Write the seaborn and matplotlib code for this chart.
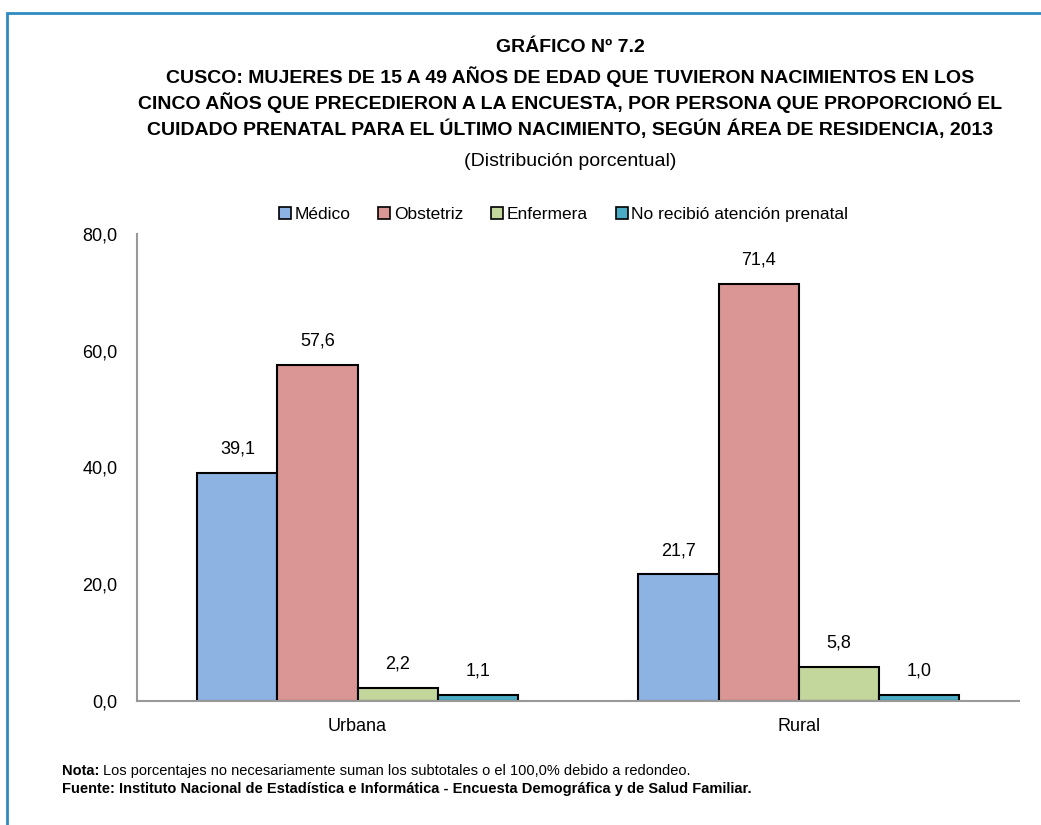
import matplotlib
matplotlib.use("Agg")
import matplotlib.pyplot as plt
import seaborn as sns
import pandas as pd
from matplotlib.patches import Rectangle

areas = ["Urbana", "Rural"]
series = ["Médico", "Obstetriz", "Enfermera", "No recibió atención prenatal"]
medico = [39.1, 21.7]
obstetriz = [57.6, 71.4]
enfermera = [2.2, 5.8]
no_recibio = [1.1, 1.0]
yticks = [0, 20, 40, 60, 80]
colors = ["#8DB3E2", "#D99694", "#C3D69B", "#4BACC6"]

rows = []
for s, vals in zip(series, [medico, obstetriz, enfermera, no_recibio]):
    for a, v in zip(areas, vals):
        rows.append({"area": a, "serie": s, "valor": v})
df = pd.DataFrame(rows)

sns.set_theme(style="white")
plt.rcParams['font.family'] = ['Liberation Sans Narrow', 'Liberation Sans', 'DejaVu Sans']
plt.rcParams['text.color'] = 'black'
plt.rcParams['xtick.color'] = 'black'
plt.rcParams['ytick.color'] = 'black'

fig = plt.figure(figsize=(10.41, 8.25), dpi=100)
ax = fig.add_axes([0.1316, 0.1503, 0.8474, 0.5661])

sns.barplot(data=df, x="area", y="valor", hue="serie", hue_order=series,
            order=areas, palette=colors, width=0.726, gap=0,
            edgecolor="black", linewidth=1.5, saturation=1, ax=ax, legend=True)

for cont in ax.containers:
    labels = [f"{v:.1f}".replace(".", ",") for v in cont.datavalues]
    ax.bar_label(cont, labels=labels, padding=11, fontsize=13, color="black")

ax.set_ylim(0, 80)
ax.set_yticks(yticks)
ax.set_yticklabels([f"{t:.1f}".replace(".", ",") for t in yticks], fontsize=13)
ax.tick_params(axis="x", labelsize=13, length=0, pad=12)
ax.tick_params(axis="y", length=0, pad=14)
ax.set_xlabel("")
ax.set_ylabel("")
for s in ["top", "right"]:
    ax.spines[s].set_visible(False)
for s in ["left", "bottom"]:
    ax.spines[s].set_color("#999999")
    ax.spines[s].set_linewidth(1.5)

leg = ax.legend(loc="center", bbox_to_anchor=(0.4835, 1.042), ncol=4,
                frameon=False, fontsize=12.5, handlelength=0.7, handleheight=0.7,
                handletextpad=0.2, columnspacing=1.6)
for h in leg.legend_handles:
    h.set_edgecolor("black")
    h.set_linewidth(1.2)

cx = 0.5476
fig.text(cx, 1 - 47 / 825, "GRÁFICO Nº 7.2", ha="center", va="center",
         fontsize=14, fontweight="bold")
title_lines = ["CUSCO: MUJERES DE 15 A 49 AÑOS DE EDAD QUE TUVIERON NACIMIENTOS EN LOS",
               "CINCO AÑOS QUE PRECEDIERON A LA ENCUESTA, POR PERSONA QUE PROPORCIONÓ EL",
               "CUIDADO PRENATAL PARA EL ÚLTIMO NACIMIENTO, SEGÚN ÁREA DE RESIDENCIA, 2013"]
for i, t in enumerate(title_lines):
    fig.text(cx, 1 - (76.5 + i * 26.5) / 825, t, ha="center", va="center",
             fontsize=14, fontweight="bold")
fig.text(cx, 1 - 161 / 825, "(Distribución porcentual)", ha="center", va="center", fontsize=14)

nota = fig.text(62 / 1041, 1 - 771 / 825, "Nota:", ha="left", va="center",
                fontsize=10.5, fontweight="bold")
fig.canvas.draw()
bb = nota.get_window_extent(renderer=fig.canvas.get_renderer())
fig.text((bb.x1 + 4) / fig.bbox.width, 1 - 771 / 825,
         "Los porcentajes no necesariamente suman los subtotales o el 100,0% debido a redondeo.",
         ha="left", va="center", fontsize=10.5)
fig.text(62 / 1041, 1 - 789 / 825,
         "Fuente: Instituto Nacional de Estadística e Informática - Encuesta Demográfica y de Salud Familiar.",
         ha="left", va="center", fontsize=10.5, fontweight="bold")

fig.patches.append(Rectangle((0.0067, -0.1), 1.2, 1.084, transform=fig.transFigure,
                             fill=False, edgecolor="#2E8BC0", linewidth=2, zorder=10))

fig.savefig("out.png", dpi=100)
